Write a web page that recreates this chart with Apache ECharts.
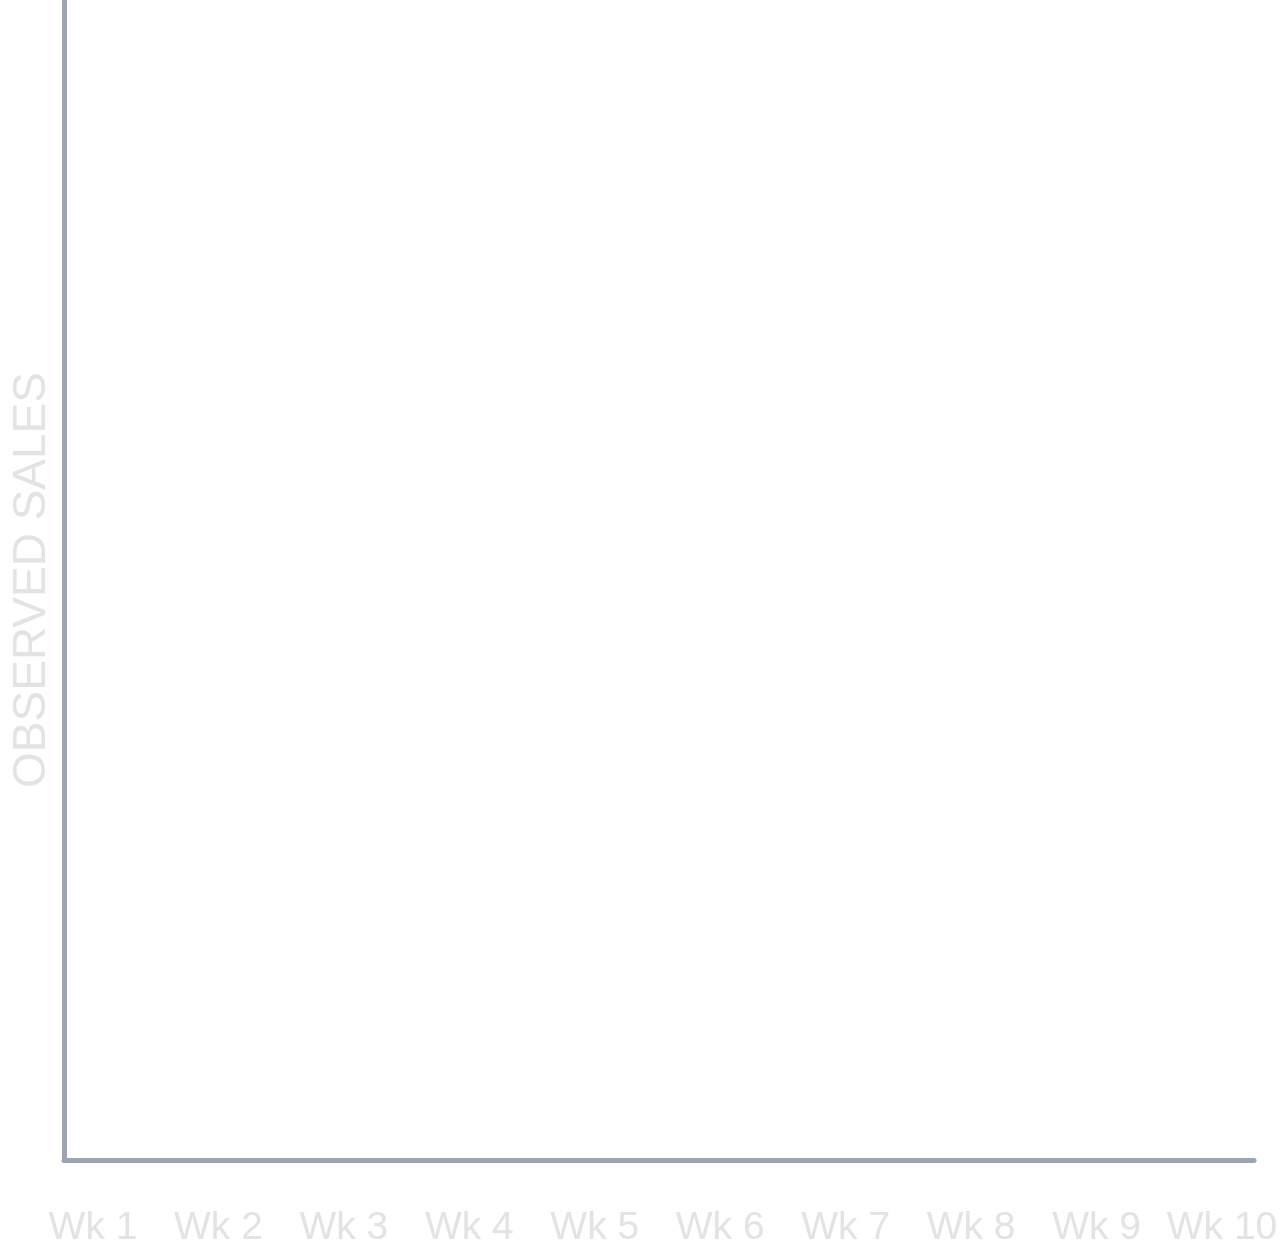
<!DOCTYPE html>
<html>
<head>
<meta charset="utf-8">
<script src="https://cdn.jsdelivr.net/npm/echarts@6/dist/echarts.min.js"></script>
<style>
html,body{margin:0;padding:0;background:#ffffff;}
#chart{width:1280px;height:1248px;}
</style>
</head>
<body>
<div id="chart"></div>
<script>
const categories = ['Wk 1','Wk 2','Wk 3','Wk 4','Wk 5','Wk 6','Wk 7','Wk 8','Wk 9','Wk 10'];
const observedSales = [];
const yAxisName = 'OBSERVED SALES';

const axisColor = '#9ca4b4';
const labelColor = '#e3e3e3';
const fontFamily = 'Liberation Sans, Arial, sans-serif';

const chart = echarts.init(document.getElementById('chart'), null, {renderer:'canvas'});
chart.setOption({
  backgroundColor:'#ffffff',
  animation:false,
  grid:[
    {left:64, right:26, top:0, bottom:88, containLabel:false, outerBoundsMode:'none'},
    {left:93, right:58, top:0, bottom:88, containLabel:false, outerBoundsMode:'none'}
  ],
  xAxis:[
    {
      gridIndex:0,
      type:'category',
      data:categories,
      boundaryGap:true,
      axisLine:{show:true, lineStyle:{color:axisColor, width:5}},
      axisTick:{show:false},
      axisLabel:{show:false}
    },
    {
      gridIndex:1,
      type:'category',
      data:categories,
      boundaryGap:false,
      axisLine:{show:false},
      axisTick:{show:false},
      splitLine:{show:false},
      axisLabel:{color:labelColor, fontSize:39, fontFamily:fontFamily, margin:49, interval:0, hideOverlap:false}
    }
  ],
  yAxis:[
    {
      gridIndex:0,
      type:'value',
      name:yAxisName,
      nameLocation:'middle',
      nameRotate:90,
      nameGap:9,
      nameTextStyle:{color:labelColor, fontSize:46, fontFamily:fontFamily},
      axisLine:{show:true, lineStyle:{color:axisColor, width:5}},
      axisTick:{show:false},
      axisLabel:{show:false},
      splitLine:{show:false}
    },
    {
      gridIndex:1,
      type:'value',
      show:false
    }
  ],
  series:[{type:'line', name:yAxisName, xAxisIndex:0, yAxisIndex:0, data:observedSales}]
});
</script>
</body>
</html>
